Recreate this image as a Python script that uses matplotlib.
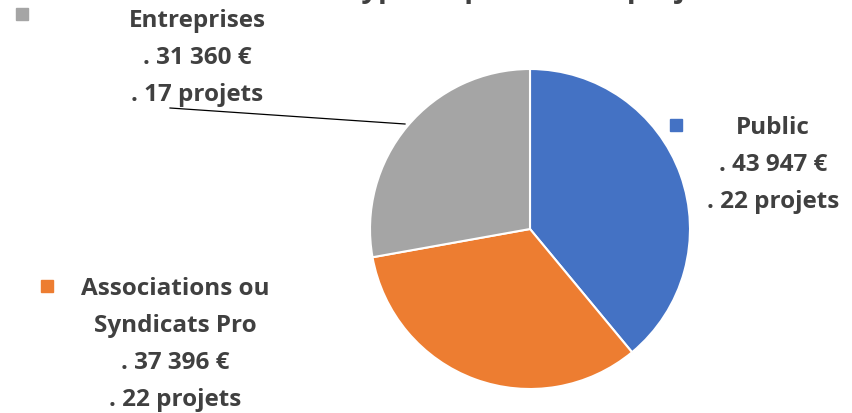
import matplotlib.pyplot as plt

# data
categories = ['Public', 'Associations ou\nSyndicats Pro', 'Entreprises']
montants = [43947, 37396, 31360]
projets = [22, 22, 17]
colors = ['#4472C4', '#ED7D31', '#A5A5A5']

W, H = 852, 414

def fmt(v):
    return f"{v:,}".replace(',', ' ')

fig = plt.figure(figsize=(W / 100, H / 100), dpi=100)
ax = fig.add_axes([0, 0, 1, 1])
ax.set_xlim(0, W)
ax.set_ylim(0, H)
ax.set_aspect('equal')
ax.axis('off')

ax.pie(montants, colors=colors, startangle=90, counterclock=False,
       center=(530, H - 230), radius=160,
       wedgeprops=dict(edgecolor='white', linewidth=1.5))

ax.set_xlim(0, W)
ax.set_ylim(0, H)

# title (cut off at top in the original)
fig.text(530 / W, 1.0 + 10 / H, 'Type de porteur de projet', ha='center', va='center',
         fontsize=21, fontweight='bold', color='#404040', family='Open Sans')

# labels: (text center x, first line y, marker x, marker y)
label_pos = [(773, 128, 676, 126), (175, 289, 47, 287), (197, 21, 22, 15)]
txt = dict(ha='center', va='center', fontsize=17.5, fontweight='bold',
           color='#404040', family='Open Sans')
step = 37
for cat, m, p, c, (tx, ty, mx, my) in zip(categories, montants, projets, colors, label_pos):
    lines = cat.split('\n') + ['. ' + fmt(m) + ' €', f'. {p} projets']
    for i, line in enumerate(lines):
        ax.text(tx, H - (ty + i * step), line, **txt)
    ax.plot(mx, H - my, marker='s', markersize=8, color=c, linestyle='none')

# leader line for Entreprises
ax.plot([170, 405], [H - 109, H - 125], color='black', linewidth=0.9)

fig.savefig('out.png', dpi=100)
